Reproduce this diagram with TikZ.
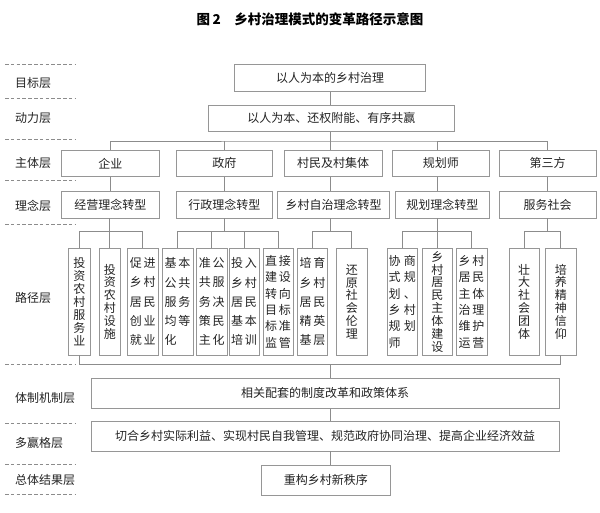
\documentclass[tikz,border=0pt]{standalone}
\usepackage{fontspec}
\setmainfont{Noto Sans CJK SC}
\definecolor{linec}{RGB}{140,140,140}
\definecolor{boxc}{RGB}{150,150,150}
\definecolor{txtc}{RGB}{35,35,35}
\tikzset{
  box/.style={draw=boxc, line width=0.9pt, inner sep=0pt, text=txtc, font=\fontsize{12}{14}\selectfont, anchor=center},
  mrow/.style={box, minimum height=26.5pt},
  pbox/.style={box, minimum height=106.5pt, align=center},
  pone/.style={pbox, font=\fontsize{12}{12.9}\selectfont},
  ptwo/.style={pbox, font=\fontsize{12}{19.3}\selectfont},
  psix/.style={pbox, font=\fontsize{12}{16.3}\selectfont},
  conn/.style={draw=linec, line width=0.9pt},
  sepline/.style={draw=linec, line width=0.9pt, dash pattern=on 3.5pt off 2.3pt},
  lbl/.style={anchor=west, inner sep=0pt, text=txtc, font=\fontsize{12}{14}\selectfont},
}
\begin{document}
\begin{tikzpicture}[x=1pt,y=-1pt]
\useasboundingbox (0,0) rectangle (600,512);
% title
\node[text=black, font=\fontsize{13.5}{15}\selectfont\bfseries] (title) at (310,19.3) {图\hspace{0.2em}2\hspace{1em}乡村治理模式的变革路径示意图};
% separators
\foreach \yy in {64,98.3,139.3,180,224,364,423,464,494}
  \draw[sepline] (5,\yy) -- (75,\yy);
% layer labels
\node[lbl] (l1) at (15,82.7) {目标层};
\node[lbl] (l2) at (15,118.3) {动力层};
\node[lbl] (l3) at (15,162.7) {主体层};
\node[lbl] (l4) at (15,206) {理念层};
\node[lbl] (l5) at (15,297.7) {路径层};
\node[lbl] (l6) at (15,398) {体制机制层};
\node[lbl] (l7) at (15,442.7) {多赢格层};
\node[lbl] (l8) at (15,480.3) {总体结果层};
% top boxes
\node[box, minimum width=191pt, minimum height=26.7pt] (t1) at (330,77.7) {以人为本的乡村治理};
\node[box, minimum width=245.5pt, minimum height=25.5pt] (t2) at (331.25,118.4) {以人为本、还权附能、有序共赢};
% subject row
\node[mrow, minimum width=97.5pt] (m1) at (110.25,163.25) {企业};
\node[mrow, minimum width=96.5pt] (m2) at (224.25,163.25) {政府};
\node[mrow, minimum width=98pt] (m3) at (333,163.25) {村民及村集体};
\node[mrow, minimum width=96.5pt] (m4) at (440.75,163.25) {规划师};
\node[mrow, minimum width=97pt] (m5) at (547.5,163.25) {第三方};
% idea row
\node[mrow, minimum width=97.5pt] (i1) at (110.25,204.75) {经营理念转型};
\node[mrow, minimum width=96.5pt] (i2) at (224.25,204.75) {行政理念转型};
\node[mrow, minimum width=112pt] (i3) at (333.5,204.75) {乡村自治理念转型};
\node[mrow, minimum width=94.5pt] (i4) at (442.25,204.75) {规划理念转型};
\node[mrow, minimum width=97pt] (i5) at (547.5,204.75) {服务社会};
% path row
\node[pone, minimum width=21.5pt] (p1) at (79.25,301.75) {投\\资\\农\\村\\服\\务\\业};
\node[pone, minimum width=21.5pt] (p2) at (109.75,301.75) {投\\资\\农\\村\\设\\施};
\node[ptwo, minimum width=30.5pt] (p3) at (142.75,301.75) {促\,进\\乡\,村\\居\,民\\创\,业\\就\,业};
\node[ptwo, minimum width=31pt] (p4) at (177.5,301.75) {基\,本\\公\,共\\服\,务\\均\,等\\化\hphantom{\,化}};
\node[ptwo, minimum width=30.5pt] (p5) at (211.75,301.75) {准\,公\\共\,服\\务\,决\\策\,民\\主\,化};
\node[ptwo, minimum width=30pt] (p6) at (244,301.75) {投\,入\\乡\,村\\居\,民\\基\,本\\培\,训};
\node[psix, minimum width=30pt] (p7) at (278,301.75) {直\,接\\建\,设\\转\,向\\目\,标\\标\,准\\监\,管};
\node[ptwo, minimum width=30pt] (p8) at (312.5,301.75) {培\,育\\乡\,村\\居\,民\\精\,英\\基\,层};
\node[pone, minimum width=30.5pt] (p9) at (351.75,301.75) {还\\原\\社\\会\\伦\\理};
\node[psix, minimum width=30.5pt] (p10) at (402.25,301.75) {协\hspace{3.5pt}商\\式\hspace{3.5pt}规\\划\hspace{3.5pt}、\\乡\hspace{3.5pt}村\\规\hspace{3.5pt}划\\师\hphantom{\hspace{3.5pt}师}};
\node[pone, minimum width=30.5pt] (p11) at (437.25,301.75) {乡\\村\\居\\民\\主\\体\\建\\设};
\node[psix, minimum width=31pt] (p12) at (471.5,301.75) {乡\,村\\居\,民\\主\,体\\治\,理\\维\,护\\运\,营};
\node[pone, minimum width=30pt] (p13) at (524,301.75) {壮\\大\\社\\会\\团\\体};
\node[pone, minimum width=30.5pt] (p14) at (560.75,301.75) {培\\养\\精\\神\\信\\仰};
% lower boxes
\node[box, minimum width=468pt, minimum height=30.5pt] (b1) at (325,393.25) {相关配套的制度改革和政策体系\hspace{28pt}};
\node[box, minimum width=468pt, minimum height=30pt] (b2) at (325,436) {\raisebox{2pt}{切合乡村实际利益、实现村民自我管理、规范政府协同治理、提高企业经济效益}\hspace{15pt}};
\node[box, minimum width=129.5pt, minimum height=30.5pt] (b3) at (325.75,480.25) {重构乡村新秩序};
% coordinates
\coordinate (spine) at (330,0);
\coordinate (bus0) at (330,141);
\coordinate (gy) at (0,231);
\coordinate (by) at (0,364);
% connectors top
\draw[conn] (t1.south) -- (t1.south |- t2.north);
\draw[conn] (spine |- t2.south) -- (bus0);
\draw[conn] (m1.north) |- (bus0) -| (m5.north);
\draw[conn] (m2.north) -- (m2.north |- bus0);
\draw[conn] (bus0) -- (bus0 |- m3.north);
\draw[conn] (p11.north |- bus0) -- (p11.north |- m4.north);
% subject to idea
\draw[conn] (m1.south) -- (m1.south |- i1.north);
\draw[conn] (m2.south) -- (m2.south |- i2.north);
\draw[conn] (spine |- m3.south) -- (spine |- i3.north);
\draw[conn] (p11.north |- m4.south) -- (p11.north |- i4.north);
\draw[conn] (m5.south) -- (m5.south |- i5.north);
% idea to path groups
\draw[conn] (p1.north) -- (p1.north |- gy) -- (p3.north |- gy) -- (p3.north);
\draw[conn] (p2.north |- i1.south) -- (p2.north);
\draw[conn] (p4.north) -- (p4.north |- gy) -- (p7.north |- gy) -- (p7.north);
\draw[conn] (i2.south) -- (i2.south |- gy);
\draw[conn] (p5.north) -- (p5.north |- gy);
\draw[conn] (p6.north) -- (p6.north |- gy);
\draw[conn] (p8.north) -- (p8.north |- gy) -- (p9.north |- gy) -- (p9.north);
\draw[conn] (spine |- i3.south) -- (spine |- gy);
\draw[conn] (p10.north) -- (p10.north |- gy) -- (p12.north |- gy) -- (p12.north);
\draw[conn] (p11.north |- i4.south) -- (p11.north);
\draw[conn] (p13.north) -- (p13.north |- gy) -- (p14.north |- gy) -- (p14.north);
\draw[conn] (i5.south) -- (i5.south |- gy);
% bottom bracket and chain
\draw[conn] (p1.south) -- (p1.south |- by) -- (p14.south |- by) -- (p14.south);
\draw[conn] (spine |- by) -- (spine |- b1.north);
\draw[conn] (spine |- b1.south) -- (spine |- b2.north);
\draw[conn] (spine |- b2.south) -- (spine |- b3.north);
\end{tikzpicture}
\end{document}
